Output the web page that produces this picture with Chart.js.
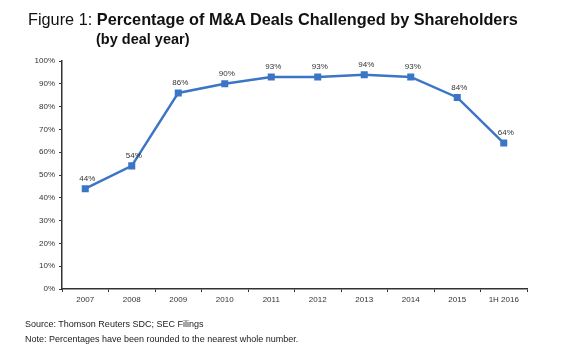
<!DOCTYPE html>
<html>
<head>
<meta charset="utf-8">
<script src="https://cdn.jsdelivr.net/npm/chart.js"></script>
<style>
    body { margin: 0; background: #fff; font-family: "Liberation Sans", Arial, sans-serif; }
    #wrap { position: relative; width: 580px; height: 349px; }
    #chart { position: absolute; left: 0; top: 0; }
    .title { position: absolute; left: 28px; top: 10px; font-size: 16.3px; color: #111; white-space: nowrap; }
    .title b { font-weight: bold; }
    .sub { position: absolute; left: 96px; top: 31px; font-size: 14.5px; font-weight: bold; color: #111; }
    .foot { position: absolute; left: 25px; font-size: 9px; color: #222; }
</style>
</head>
<body>
<div id="wrap">
    <canvas id="chart" width="580" height="349"></canvas>
    <div class="title">Figure 1: <b>Percentage of M&amp;A Deals Challenged by Shareholders</b></div>
    <div class="sub">(by deal year)</div>
    <div class="foot" style="top:319px">Source: Thomson Reuters SDC; SEC Filings</div>
    <div class="foot" style="top:334px">Note: Percentages have been rounded to the nearest whole number.</div>
</div>
<script>
// data
const years = ['2007', '2008', '2009', '2010', '2011', '2012', '2013', '2014', '2015', '1H 2016'];
const challengedPct = [44, 54, 86, 90, 93, 93, 94, 93, 84, 64];
const yTicks = [0, 10, 20, 30, 40, 50, 60, 70, 80, 90, 100];

// small plugin to write the % above each point
const pointLabels = {
    id: 'pointLabels',
    afterDatasetsDraw(chart) {
        const ctx = chart.ctx;
        const meta = chart.getDatasetMeta(0);
        ctx.save();
        ctx.font = '8px "Liberation Sans", Arial, sans-serif';
        ctx.fillStyle = '#333';
        ctx.textAlign = 'center';
        ctx.textBaseline = 'bottom';
        meta.data.forEach((pt, i) => {
            ctx.fillText(challengedPct[i] + '%', pt.x + 2, pt.y - 6);
        });
        ctx.restore();
    }
};

new Chart(document.getElementById('chart'), {
    type: 'line',
    data: {
        labels: years,
        datasets: [{
            data: challengedPct,
            borderColor: '#3b76c6',
            backgroundColor: '#3b76c6',
            borderWidth: 2.5,
            pointStyle: 'rect',
            pointRadius: 3.2,
            tension: 0
        }]
    },
    options: {
        responsive: false,
        animation: false,
        layout: { padding: { left: 0, right: 53, top: 61, bottom: 0 } },
        plugins: { legend: { display: false }, tooltip: { enabled: false } },
        scales: {
            x: {
                offset: true,
                grid: { offset: true, drawOnChartArea: false, drawTicks: true, tickLength: 3, color: '#333' },
                border: { color: '#333', width: 1.5 },
                ticks: { color: '#333', font: { size: 8, family: '"Liberation Sans", Arial, sans-serif' }, padding: 3, maxRotation: 0 },
                afterFit(scale) { scale.height = 60; }
            },
            y: {
                min: 0,
                max: 100,
                afterBuildTicks(scale) { scale.ticks = yTicks.map(v => ({ value: v })); },
                grid: { drawOnChartArea: false, drawTicks: true, tickLength: 3, color: '#333' },
                border: { color: '#333', width: 1.5 },
                ticks: {
                    color: '#333',
                    font: { size: 8, family: '"Liberation Sans", Arial, sans-serif' },
                    padding: 4,
                    callback: v => v + '%'
                },
                afterFit(scale) { scale.width = 62; }
            }
        }
    },
    plugins: [pointLabels]
});
</script>
</body>
</html>
